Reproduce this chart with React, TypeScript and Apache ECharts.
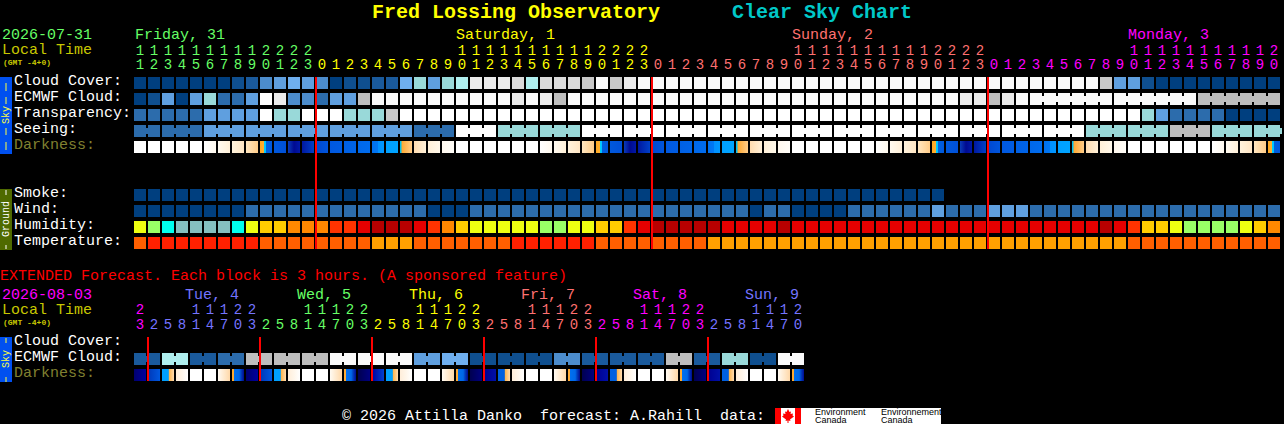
import React, { useEffect, useRef } from "react";
import * as echarts from "echarts";

// ---------- tick labels (top block: one column per hour) ----------
const topOnes = [..."1234567890123" + "012345678901234567890123" + "012345678901234567890123" + "012345678901234567890"];
const topTens = [..."1111111112222" + "          11111111112222" + "          11111111112222" + "          11111111112"];
const topDay = [..."FFFFFFFFFFFFF" + "SSSSSSSSSSSSSSSSSSSSSSSS" + "UUUUUUUUUUUUUUUUUUUUUUUU" + "MMMMMMMMMMMMMMMMMMMMM"];

// ---------- tick labels (extended block: one column per 3 hours) ----------
const extOnes = [..."3" + "25814703" + "25814703" + "25814703" + "25814703" + "25814703" + "2581470"];
const extTens = [..."2" + "   11122" + "   11122" + "   11122" + "   11122" + "   11122" + "   1112"];
const extDay = [..."M" + "TTTTTTTT" + "FFFFFFFF" + "SSSSSSSS" + "UUUUUUUU" + "MMMMMMMM" + "TTTTTTT"];

const dayColors: Record<string, string> = { F: "#66ff66", S: "#ffff00", U: "#ff7070", M: "#ff00ff", T: "#7474ff" };

const topRowLabels = ["Cloud Cover:", "ECMWF Cloud:", "Transparency:", "Seeing:", "Darkness:", " ", " ", "Smoke:", "Wind:", "Humidity:", "Temperature:"];
const extRowLabels = ["Cloud Cover:", "ECMWF Cloud:", "Darkness:"];

// ---------- series (each character is one forecast class) ----------
const cloudCover = [..."000000012" + "4565" + "401122" + "67578" + "eee" + "d8dddgwgew" + "wwwwwwwwwwwwwwwwwwwwwwwwwwwwwwww" + "g551" + "000000000"];
const ecmwfCloud = [..."015057335We44355G" + "wwwwwwwwww" + "eweG" + "wwwwwwwwwwwwwwwwwwwwwwwwwwww" + "eeGe" + "w" + "wwwwwwwwwwww" + "GGGGGG"];
const transparency = [..."33333" + "5555" + "W" + "77" + "WWW" + "777" + "g" + "WWWWWWWWWWWWWWWWWWWWWWWWWWWWWWWWWWWWWWWWWWWWWWWWWWWWW" + "75" + "3333" + "0000"];
const seeing = [..."33333" + "555555555555555" + "333" + "WWW" + "777777" + "WWWWWWWWWWWWWWWWWWWWWWWWWWWWWWWWWWWW" + "777777" + "GGG" + "77777"];
const darkness = [..."WWWWW" + "abcdefghijklmnopqr" + "WWWWWW" + "abcdefghijklmnopqr" + "WWWWWW" + "abcdefghijklmnopqr" + "WWWWWW" + "abcde"];
const smoke = [..."0000000000000000000000000000000000000000000000000000000000"];
const wind = [..."00000000" + "3333333333333" + "000" + "33333333333333333333" + "0" + "33" + "0000" + "333333" + "5" + "333" + "555" + "333333333333333333"];
const humidity = [..."lgcttttclyyooorrdkkkd" + "roylllllggllyyrd" + "kkkkk" + "dddd" + "k" + "dddddddddddddddddddddd" + "kdryylggggly" + "o"];
const temperature = [..."o" + "rrrrrrrr" + "oooooooo" + "aaa" + "ooooooo" + "rrrrrr" + "oooooooo" + "aaaaaaaaaaaaaaaaaaaaaaaaaaaaaa" + "ooooooooooo"];

const extEcmwf = [..."22" + "88" + "22" + "33" + "GG" + "GG" + "GG" + "ww" + "ww" + "ww" + "55" + "66" + "11" + "11" + "11" + "44" + "22" + "22" + "22" + "GG" + "22" + "77" + "11" + "ww"];
const extDarkness = [..."stuvWWxy" + "stuvWWxy" + "STuvWWxy" + "SRUvWWxy" + "SRUvWWxy" + "SRUvWWx" + "y"];

// number of hours joined into one model block, for the rows that have blocks
const seeingBlocks = [2, 3, 3, 3, 3, 3, 3, 3, 3, 3, 3, 3, 3, 3, 3, 3, 3, 3, 3, 3, 3, 3, 3, 3, 3, 3, 3, 3];
const ecmwfBlocks = [64, 6, 6, 6];
const extEcmwfBlocks = [2, 2, 2, 2, 2, 2, 2, 2, 2, 2, 2, 2, 2, 2, 2, 2, 2, 2, 2, 2, 2, 2, 2, 2];

const midnightCols = [13, 37, 61];
const extMidnightCols = [1, 9, 17, 25, 33, 41];

// ---------- colours ----------
const skyColors: Record<string, string> = {
  "0": "#003f7f", "1": "#0f4f8f", "2": "#1a5a9c", "3": "#2c6cac", "4": "#4c8ccc", "5": "#5f9fdf",
  "6": "#6fafef", "7": "#99d9d9", "8": "#afefef", W: "#ffffff", w: "#fafafa", e: "#ebebeb",
  d: "#dadada", g: "#c8c8c8", G: "#bebebe",
};
const humidityColors: Record<string, string> = {
  l: "#eeff11", g: "#99ff66", c: "#00ffee", t: "#85bfbf", y: "#ffcc00", o: "#ff8800", r: "#ff3300", d: "#e60000", k: "#b80000",
};
const temperatureColors: Record<string, string> = { r: "#ff2000", o: "#ff5f00", a: "#ffa000" };

type Stop = [number, string];
const darkFills: Record<string, Stop[]> = {
  W: [[0, "#ffffff"], [1, "#ffffff"]],
  a: [[0, "#ffffff"], [1, "#fff9ee"]],
  b: [[0, "#fffaf0"], [1, "#fff0d8"]],
  c: [[0, "#fff2dc"], [1, "#ffe6c4"]],
  d: [[0, "#ffe6c0"], [1, "#ffcc88"]],
  e: [[0, "#ffa822"], [0.32, "#ffb030"], [0.33, "#00d0ff"], [0.5, "#00c0ff"], [0.51, "#0060e0"], [1, "#0058dc"]],
  f: [[0, "#0058dc"], [1, "#0050d8"]],
  g: [[0, "#0a3cb8"], [0.5, "#000a90"], [1, "#0018a8"]],
  h: [[0, "#0018a0"], [1, "#0040c8"]],
  i: [[0, "#0048d0"], [1, "#0055dd"]],
  j: [[0, "#0058e0"], [1, "#005ce2"]],
  k: [[0, "#0060e4"], [1, "#0064e8"]],
  l: [[0, "#0068ea"], [1, "#006cee"]],
  m: [[0, "#0070f0"], [0.5, "#0078f4"], [0.51, "#0090ff"], [1, "#0098ff"]],
  n: [[0, "#00a0ff"], [1, "#00a4ff"]],
  o: [[0, "#00c0f0"], [0.12, "#00c0f0"], [0.13, "#ffa830"], [1, "#ffcc88"]],
  p: [[0, "#ffdcb0"], [1, "#fff0d8"]],
  q: [[0, "#fff0d8"], [1, "#fff8ea"]],
  r: [[0, "#fff8ee"], [1, "#fffdf8"]],
  s: [[0, "#000070"], [1, "#0000a0"]],
  t: [[0, "#0038b8"], [1, "#0058e0"]],
  S: [[0, "#000050"], [1, "#000080"]],
  T: [[0, "#0000a0"], [1, "#0040d0"]],
  R: [[0, "#000090"], [1, "#0010a8"]],
  u: [[0, "#00a0ff"], [0.54, "#00a0ff"], [0.55, "#ffb040"], [1, "#ffdcb0"]],
  U: [[0, "#0060e0"], [0.54, "#0060e0"], [0.55, "#ffb040"], [1, "#ffdcb0"]],
  v: [[0, "#ffeeda"], [0.5, "#fff6ea"], [1, "#ffffff"]],
  x: [[0, "#fffaf2"], [1, "#ffd8a8"]],
  y: [[0, "#ffaa33"], [0.15, "#ffaa33"], [0.16, "#0070f0"], [0.6, "#0068e8"], [0.75, "#0040c0"], [1, "#000a90"]],
};

const MONO = "'Liberation Mono', monospace";

// every cell holds: column, row, a resolved fill id, whether it is bridged to the next hour
const fills: any[] = [];
function fillId(f: any) {
  fills.push(f);
  return fills.length - 1;
}
function joinsFromBlocks(blocks: number[]) {
  const joins = new Set<number>();
  let at = 0;
  for (const b of blocks) {
    for (let i = 0; i < b - 1; i++) joins.add(at + i);
    at += b;
  }
  return joins;
}
function darkFill(code: string) {
  return {
    type: "linear", x: 0, y: 0, x2: 1, y2: 0,
    colorStops: darkFills[code].map(([offset, color]) => ({ offset, color })),
  };
}
function rowCells(values: string[], row: number, color: (c: string) => any, joins?: Set<number>) {
  return values.map((c, col) => [col, row, fillId(color(c)), joins && joins.has(col) ? 1 : 0]);
}

const topCells = [
  ...rowCells(cloudCover, 0, (c) => skyColors[c]),
  ...rowCells(ecmwfCloud, 1, (c) => skyColors[c]),
  ...rowCells(transparency, 2, (c) => skyColors[c]),
  ...rowCells(seeing, 3, (c) => skyColors[c], joinsFromBlocks(seeingBlocks)),
  ...rowCells(darkness, 4, darkFill),
  ...rowCells(smoke, 7, (c) => skyColors[c]),
  ...rowCells(wind, 8, (c) => skyColors[c]),
  ...rowCells(humidity, 9, (c) => humidityColors[c]),
  ...rowCells(temperature, 10, (c) => temperatureColors[c]),
];
const extCells = [
  ...rowCells(extEcmwf, 1, (c) => skyColors[c], joinsFromBlocks(extEcmwfBlocks)),
  ...rowCells(extDarkness, 2, darkFill),
];
// ecmwf: the first 64 hours are separate cells, the rest are six-hour blocks
const ecmwfJoins = joinsFromBlocks(ecmwfBlocks);
for (const cell of topCells) {
  if (cell[1] === 1 && cell[0] >= 64 && ecmwfJoins.has(cell[0] as number)) cell[3] = 1;
}

function renderCell(_: any, api: any) {
  const [cx, cy] = api.coord([api.value(0), api.value(1)]);
  const [bw, bh] = api.size([1, 1]);
  const w = bw - 2;
  const h = bh - 4;
  const fill = fills[api.value(2)];
  const children: any[] = [
    { type: "rect", shape: { x: cx - w / 2, y: cy - h / 2, width: w, height: h }, style: { fill } },
  ];
  if (api.value(3)) {
    children.push({
      type: "rect",
      shape: { x: cx + w / 2, y: cy - 3, width: 2, height: 6 },
      style: { fill: typeof fill === "string" ? fill : "#000" },
    });
  }
  return { type: "group", children };
}

function renderMidnight(_: any, api: any) {
  const [bw, bh] = api.size([1, 1]);
  const top = api.coord([api.value(0), api.value(1)]);
  const bottom = api.coord([api.value(0), api.value(2)]);
  return {
    type: "rect",
    shape: { x: top[0] - bw / 2, y: top[1] - (bh - 4) / 2, width: 2, height: bottom[1] - top[1] + (bh - 4) },
    style: { fill: "#ff0000" },
  };
}

function hourAxis(gridIndex: number, labels: string[], days: string[], offset: number) {
  return {
    type: "category",
    gridIndex,
    position: "top",
    offset,
    data: labels,
    axisLine: { show: false },
    axisTick: { show: false },
    splitLine: { show: false },
    axisLabel: {
      show: true,
      interval: 0,
      margin: 3,
      showMinLabel: true,
      showMaxLabel: true,
      fontFamily: MONO,
      fontSize: 14,
      color: (_: any, i: number) => dayColors[days[i]],
    },
  };
}
function rowAxis(gridIndex: number, labels: string[], margin: number) {
  return {
    type: "category",
    gridIndex,
    inverse: true,
    data: labels,
    axisLine: { show: false },
    axisTick: { show: false },
    splitLine: { show: false },
    axisLabel: {
      show: true,
      interval: 0,
      margin,
      align: "left",
      verticalAlign: "bottom",
      lineHeight: 4,
      showMinLabel: true,
      showMaxLabel: true,
      fontFamily: MONO,
      fontSize: 15,
      color: (v: string) => (v === "Darkness:" ? "#808030" : "#ffffff"),
    },
  };
}

function label(text: string, x: number, y: number, fill: string, size = 15, extra: any = {}, styleExtra: any = {}) {
  return {
    type: "text", x, y, silent: true, ...extra,
    style: { text, fill, font: `${size}px ${MONO}`, textVerticalAlign: "middle", verticalAlign: "middle", ...styleExtra },
  };
}
function box(x: number, y: number, width: number, height: number, fill: string) {
  return { type: "rect", silent: true, shape: { x, y, width, height }, style: { fill } };
}
function sideText(text: string, cy: number, fill: string) {
  return label(text, 6, cy, fill, 10, { rotation: Math.PI / 2 }, { align: "center", font: `10px ${MONO}` });
}

const mapleLeaf = [
  [788, 409], [789.5, 412], [791, 411.5], [790.5, 414], [793, 413.5], [792.5, 415.5], [794, 416.5],
  [790, 419.5], [790.5, 421], [788.5, 420.5], [788.5, 423], [787.5, 423], [787.5, 420.5], [785.5, 421],
  [786, 419.5], [782, 416.5], [783.5, 415.5], [783, 413.5], [785.5, 414], [785, 411.5], [786.5, 412],
];

const logoFont = "9px 'Liberation Sans', sans-serif";

const graphics: any[] = [
  label("Fred Lossing Observatory", 372, 12, "#ffff00", 20, {}, { font: `bold 20px ${MONO}` }),
  label("Clear Sky Chart", 732, 12, "#00c8c8", 20, {}, { font: `bold 20px ${MONO}` }),

  label("2026-07-31", 2, 35, "#66ff66"),
  label("Local Time", 2, 50, "#c8c800"),
  label("(GMT -4+0)", 3, 62, "#c8c800", 8, {}, { font: `bold 8px ${MONO}` }),
  label("Friday, 31", 135, 35, dayColors.F),
  label("Saturday, 1", 456, 35, dayColors.S),
  label("Sunday, 2", 792, 35, dayColors.U),
  label("Monday, 3", 1128, 35, dayColors.M),

  box(0, 77, 12, 77, "#0050f0"),
  box(5.5, 83, 1, 8, "#ffff40"),
  box(5.5, 97, 1, 7, "#ffff40"),
  sideText("Sky", 115, "#ffff40"),
  box(5.5, 128, 1, 7, "#ffff40"),
  box(5.5, 142, 1, 8, "#ffff40"),

  box(0, 189, 12, 61, "#4f6a00"),
  box(5.5, 190, 1, 5, "#ffffff"),
  sideText("Ground", 219, "#ffffff"),
  box(5.5, 245, 1, 4, "#ffffff"),

  label("EXTENDED Forecast. Each block is 3 hours. (A sponsored feature)", 0, 276, "#ff0000"),
  label("2026-08-03", 2, 295, "#ff00ff"),
  label("Local Time", 2, 310, "#c8c800"),
  label("(GMT -4+0)", 3, 322, "#c8c800", 8, {}, { font: `bold 8px ${MONO}` }),
  label("Tue, 4", 185, 295, dayColors.T),
  label("Wed, 5", 297, 295, dayColors.F),
  label("Thu, 6", 409, 295, dayColors.S),
  label("Fri, 7", 521, 295, dayColors.U),
  label("Sat, 8", 633, 295, dayColors.M),
  label("Sun, 9", 745, 295, dayColors.T),

  box(0, 337, 12, 45, "#0050f0"),
  box(5.5, 338, 1, 5, "#ffff40"),
  sideText("Sky", 359, "#ffff40"),
  box(5.5, 377, 1, 5, "#ffff40"),

  label("\u00a9 2026 Attilla Danko  forecast: A.Rahill  data:", 342, 416, "#ffffff"),
  box(775, 408, 26, 16, "#ffffff"),
  box(775, 408, 6, 16, "#ff0000"),
  box(795, 408, 6, 16, "#ff0000"),
  { type: "polygon", silent: true, shape: { points: mapleLeaf }, style: { fill: "#ff0000" } },
  box(801, 408, 140, 16, "#ffffff"),
  label("Environment", 815, 412, "#000000", 9, {}, { font: logoFont }),
  label("Canada", 815, 420, "#000000", 9, {}, { font: logoFont }),
  label("Environnement", 881, 412, "#000000", 9, {}, { font: logoFont }),
  label("Canada", 881, 420, "#000000", 9, {}, { font: logoFont }),
];

const option: any = {
  animation: false,
  backgroundColor: "#000000",
  tooltip: { show: false },
  grid: [
    { left: 133, top: 75, width: 14 * topOnes.length, height: 16 * topRowLabels.length, containLabel: false, outerBoundsMode: "none" },
    { left: 133, top: 335, width: 14 * extOnes.length, height: 16 * extRowLabels.length, containLabel: false, outerBoundsMode: "none" },
  ],
  xAxis: [
    hourAxis(0, topOnes, topDay, 0),
    hourAxis(0, topTens, topDay, 14),
    hourAxis(1, extOnes, extDay, 0),
    hourAxis(1, extTens, extDay, 15),
  ],
  yAxis: [rowAxis(0, topRowLabels, 119), rowAxis(1, extRowLabels, 119)],
  series: [
    {
      type: "custom", name: "top", xAxisIndex: 0, yAxisIndex: 0, data: topCells,
      encode: { x: 0, y: 1 }, renderItem: renderCell, clip: false, z: 2, silent: true,
    },
    {
      type: "custom", name: "ext", xAxisIndex: 2, yAxisIndex: 1, data: extCells,
      encode: { x: 0, y: 1 }, renderItem: renderCell, clip: false, z: 2, silent: true,
    },
    {
      type: "custom", name: "midnight", xAxisIndex: 0, yAxisIndex: 0,
      data: midnightCols.map((c) => [c, 0, topRowLabels.length - 1]),
      encode: { x: 0, y: 1 }, renderItem: renderMidnight, clip: false, z: 5, silent: true,
    },
    {
      type: "custom", name: "extMidnight", xAxisIndex: 2, yAxisIndex: 1,
      data: extMidnightCols.map((c) => [c, 0, extRowLabels.length - 1]),
      encode: { x: 0, y: 1 }, renderItem: renderMidnight, clip: false, z: 5, silent: true,
    },
  ],
  graphic: { elements: graphics },
};

export default function App() {
  const ref = useRef<HTMLDivElement>(null);
  useEffect(() => {
    document.body.style.margin = "0";
    document.body.style.background = "#000";
    document.body.style.overflow = "hidden";
    const chart = echarts.init(ref.current!, null, { renderer: "svg" });
    chart.setOption(option);
    return () => chart.dispose();
  }, []);
  return <div ref={ref} style={{ width: 1284, height: 424 }} />;
}
